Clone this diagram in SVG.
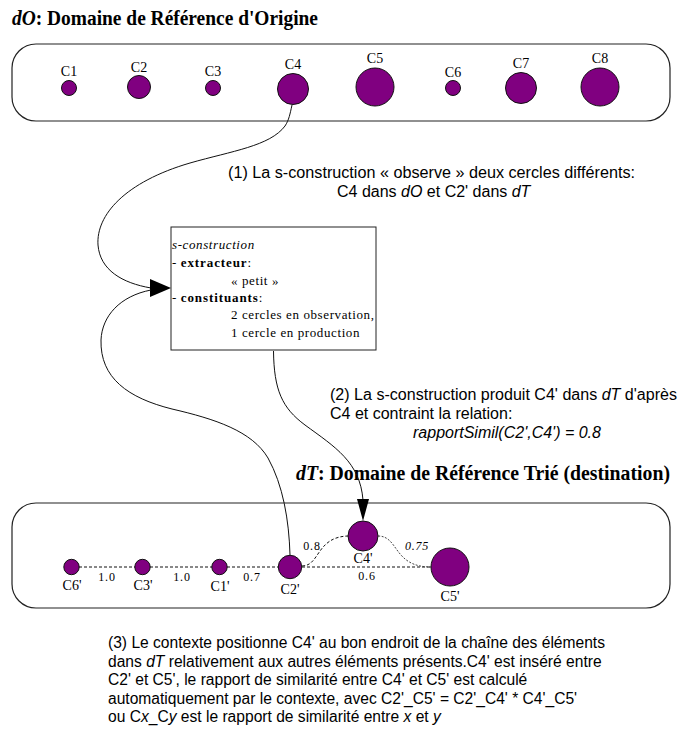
<svg xmlns="http://www.w3.org/2000/svg" width="679" height="734" viewBox="0 0 679 734">
<style>
.bg{fill:#fff}
.dom{fill:none;stroke:#222;stroke-width:1.2}
.c{fill:#800080;stroke:#111;stroke-width:1}
.lbl{font-family:"Liberation Serif","Times New Roman",serif;font-size:14px;fill:#000;text-anchor:middle}
.el{font-family:"Liberation Serif","Times New Roman",serif;font-size:12px;fill:#000;text-anchor:middle;letter-spacing:0.8px}
.title{font-family:"Liberation Serif","Times New Roman",serif;font-size:20px;font-weight:bold;fill:#000}
.sans{font-family:"Liberation Sans",Arial,sans-serif;font-size:16px;fill:#000}
.sans3{font-family:"Liberation Sans",Arial,sans-serif;font-size:15.6px;fill:#000}
.box{fill:#fff;stroke:#222;stroke-width:1}
.bt{font-family:"Liberation Serif","Times New Roman",serif;font-size:13px;fill:#000;letter-spacing:0.6px}
.bb{font-weight:bold;letter-spacing:0.9px}
.link{fill:none;stroke:#111;stroke-width:1}
.dash{fill:none;stroke:#111;stroke-width:1;stroke-dasharray:3 2}
.dot{fill:none;stroke:#444;stroke-width:1;stroke-dasharray:2 1.5}
.head{fill:#000}
</style>
<rect class="bg" x="0" y="0" width="679" height="734"/>

<g id="title-dO">
<text class="title" x="12" y="25" textLength="306" lengthAdjust="spacingAndGlyphs"><tspan font-style="italic">dO</tspan>: Domaine de Référence d'Origine</text>
</g>
<g id="domain-dO"><rect class="dom" x="12" y="44" width="658" height="77" rx="24" ry="24"/></g>

<g id="C1"><circle class="c" cx="69" cy="88" r="7.5"/><text class="lbl" x="69" y="76">C1</text></g>
<g id="C2"><circle class="c" cx="139" cy="87" r="11.5"/><text class="lbl" x="139" y="72">C2</text></g>
<g id="C3"><circle class="c" cx="213" cy="88" r="7.5"/><text class="lbl" x="213" y="76">C3</text></g>
<g id="C4"><circle class="c" cx="293" cy="89" r="15.5"/><text class="lbl" x="293" y="69">C4</text></g>
<g id="C5"><circle class="c" cx="375" cy="87" r="19"/><text class="lbl" x="375" y="63">C5</text></g>
<g id="C6"><circle class="c" cx="453" cy="88" r="7.5"/><text class="lbl" x="453" y="77">C6</text></g>
<g id="C7"><circle class="c" cx="521" cy="88" r="15.5"/><text class="lbl" x="521" y="68">C7</text></g>
<g id="C8"><circle class="c" cx="600" cy="87" r="19"/><text class="lbl" x="600" y="63">C8</text></g>

<g id="note1">
<text class="sans" x="228" y="178" textLength="407" lengthAdjust="spacingAndGlyphs">(1) La s-construction « observe » deux cercles différents:</text>
<text class="sans" x="337" y="197">C4 dans <tspan font-style="italic">dO</tspan> et C2' dans <tspan font-style="italic">dT</tspan></text>
</g>

<g id="s-construction">
<rect class="box" x="171" y="227" width="205" height="123"/>
<text class="bt" x="172" y="249" font-style="italic">s-construction</text>
<text class="bt" x="172" y="267">- <tspan class="bb">extracteur</tspan>:</text>
<text class="bt" x="231" y="285">« petit »</text>
<text class="bt" x="172" y="302">- <tspan class="bb">constituants</tspan>:</text>
<text class="bt" x="231" y="319">2 cercles en observation,</text>
<text class="bt" x="231" y="337">1 cercle en production</text>
</g>

<g id="note2">
<text class="sans" x="330" y="400" textLength="347" lengthAdjust="spacingAndGlyphs">(2) La s-construction produit C4' dans <tspan font-style="italic">dT</tspan> d'après</text>
<text class="sans" x="330" y="419">C4 et contraint la relation:</text>
<text class="sans" x="413" y="438" font-style="italic">rapportSimil(C2',C4') = 0.8</text>
</g>

<g id="title-dT">
<text class="title" x="296" y="480" textLength="374" lengthAdjust="spacingAndGlyphs"><tspan font-style="italic">dT</tspan>: Domaine de Référence Trié (destination)</text>
</g>
<g id="domain-dT"><rect class="dom" x="12" y="503" width="658" height="105" rx="24" ry="24"/></g>

<g id="connectors">
<path class="link" d="M292,105 C290,114 289,120 285,126 C270,146 232,151 190,163 C125,182 96,215 98,245 C100,270 122,283 151,288"/>
<polygon class="head" points="171,288 150,279 150,297"/>
<path class="link" d="M151,290 C120,296 102,316 101,340 C100,378 128,398 172,409 C215,419 252,431 268,458 C283,485 289,520 290,555"/>
<path class="link" d="M273.5,351 C274,390 282,408 305,425 C335,447 360,462 363,500"/>
<polygon class="head" points="363,521 357,499 369,499"/>
<path class="dash" d="M79,567 H135"/>
<path class="dash" d="M150,567 H212"/>
<path class="dash" d="M227,567 H278"/>
<path class="dash" d="M302,567 H431"/>
<path class="dash" d="M302,566 C320,566 316,537 348,536"/>
<path class="dot" d="M378,536 C399,536 393,567 431,567"/>
<text class="el" x="107" y="581">1.0</text>
<text class="el" x="182" y="581">1.0</text>
<text class="el" x="252" y="581">0.7</text>
<text class="el" x="367" y="580">0.6</text>
<text class="el" x="312" y="550">0.8</text>
<text class="el" x="417" y="550" font-style="italic">0.75</text>
</g>

<g id="C6p"><circle class="c" cx="71.5" cy="567" r="7.7"/><text class="lbl" x="72" y="590">C6'</text></g>
<g id="C3p"><circle class="c" cx="142.5" cy="567" r="7.7"/><text class="lbl" x="143" y="590">C3'</text></g>
<g id="C1p"><circle class="c" cx="219.5" cy="567" r="7.7"/><text class="lbl" x="220" y="591">C1'</text></g>
<g id="C2p"><circle class="c" cx="290" cy="567" r="11.7"/><text class="lbl" x="290" y="594">C2'</text></g>
<g id="C4p"><circle class="c" cx="363" cy="536" r="15"/><text class="lbl" x="363" y="563">C4'</text></g>
<g id="C5p"><circle class="c" cx="450" cy="567" r="19"/><text class="lbl" x="450" y="601">C5'</text></g>

<g id="note3">
<text class="sans3" x="108" y="648" textLength="497" lengthAdjust="spacingAndGlyphs">(3) Le contexte positionne C4' au bon endroit de la chaîne des éléments</text>
<text class="sans3" x="108" y="666.5">dans <tspan font-style="italic">dT</tspan> relativement aux autres éléments présents.C4' est inséré entre</text>
<text class="sans3" x="108" y="685">C2' et C5', le rapport de similarité entre C4' et C5' est calculé</text>
<text class="sans3" x="108" y="703.5">automatiquement par le contexte, avec C2'_C5' = C2'_C4' * C4'_C5'</text>
<text class="sans3" x="108" y="722">ou C<tspan font-style="italic">x</tspan>_C<tspan font-style="italic">y</tspan> est le rapport de similarité entre <tspan font-style="italic">x</tspan> et <tspan font-style="italic">y</tspan></text>
</g>
</svg>
